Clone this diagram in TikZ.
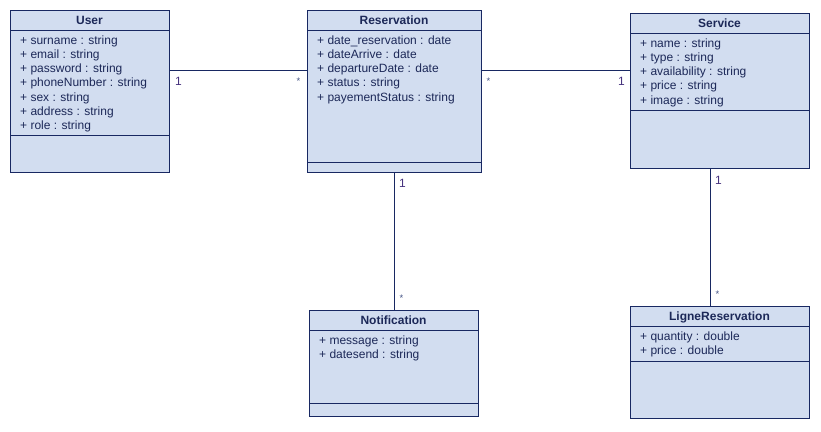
\documentclass[tikz,border=0pt]{standalone}
\usepackage{fontspec}
\setmainfont{Liberation Sans}
\usetikzlibrary{calc}
\definecolor{clsfill}{RGB}{210,221,240}
\definecolor{clsline}{RGB}{24,40,98}
\definecolor{clstext}{RGB}{28,40,88}
\definecolor{multone}{RGB}{70,50,125}
\definecolor{multstar}{RGB}{70,85,135}
\tikzset{
  cls/.style={draw=clsline, fill=clsfill, line width=1.3pt, anchor=north west, inner sep=0pt},
  sep/.style={draw=clsline, line width=1pt},
  title/.style={font=\fontsize{12}{14}\selectfont\bfseries, text=clstext, inner sep=0pt, anchor=base},
  attr/.style={font=\fontsize{12}{14}\selectfont, text=clstext, inner sep=0pt, anchor=base west},
  assoc/.style={draw=clsline, line width=1pt},
  one/.style={font=\fontsize{12}{14}\selectfont, text=multone, inner sep=0pt, anchor=base},
  star/.style={font=\fontsize{9.5}{10}\selectfont, text=multstar, inner sep=0pt, anchor=base},
}
\begin{document}
\begin{tikzpicture}[x=1pt,y=-1pt]
\useasboundingbox (0,0) rectangle (821,431);
% class boxes
\node[cls, minimum width=159pt, minimum height=162pt] (user) at (10,10) {};
\node[cls, minimum width=174pt, minimum height=162pt] (res) at (307,10) {};
\node[cls, minimum width=179pt, minimum height=155pt] (serv) at (630,13) {};
\node[cls, minimum width=169pt, minimum height=106pt] (notif) at (309,310) {};
\node[cls, minimum width=179pt, minimum height=112pt] (ligne) at (630,306) {};
% separators
\draw[sep] (10,30) -- (169,30) (10,135) -- (169,135);
\draw[sep] (307,30) -- (481,30) (307,162) -- (481,162);
\draw[sep] (630,33) -- (809,33) (630,110) -- (809,110);
\draw[sep] (309,330) -- (478,330) (309,403) -- (478,403);
\draw[sep] (630,326) -- (809,326) (630,361) -- (809,361);
% titles
\node[title] (tuser) at (89.5,24.3) {User};
\node[title] (tres) at (394,24.3) {Reservation};
\node[title] (tserv) at (719.5,27.3) {Service};
\node[title] (tnotif) at (393.5,324.3) {Notification};
\node[title] (tligne) at (719.5,320.3) {LigneReservation};
% attributes
\foreach \t [count=\i] in {+ surname : string, + email : string, + password : string, + phoneNumber : string, + sex : string, + address : string, + role : string}
  \node[attr] (ua\i) at (20,{44.5+14.15*(\i-1)}) {\t};
\foreach \t [count=\i] in {+ date\_reservation : date, + dateArrive : date, + departureDate : date, + status : string, + payementStatus : string}
  \node[attr] (ra\i) at (317,{44.5+14.15*(\i-1)}) {\t};
\foreach \t [count=\i] in {+ name : string, + type : string, + availability : string, + price : string, + image : string}
  \node[attr] (sa\i) at (640,{47.5+14.15*(\i-1)}) {\t};
\foreach \t [count=\i] in {+ message : string, + datesend : string}
  \node[attr] (na\i) at (319,{344.5+14.15*(\i-1)}) {\t};
\foreach \t [count=\i] in {+ quantity : double, + price : double}
  \node[attr] (la\i) at (640,{340.5+14.15*(\i-1)}) {\t};
% associations
\coordinate (y70) at (0,70);
\draw[assoc] (user.east |- y70) -- (res.west |- y70);
\draw[assoc] (res.east |- y70) -- (serv.west |- y70);
\coordinate (x394) at (394,0);
\draw[assoc] (res.south -| x394) -- (notif.north -| x394);
\coordinate (x710) at (710.5,0);
\draw[assoc] (serv.south -| x710) -- (ligne.north -| x710);
% multiplicities
\node[one] (m1) at (178.5,85.5) {1};
\node[star] (m2) at (298.5,84) {*};
\node[star] (m3) at (488.5,84) {*};
\node[one] (m4) at (621.5,85.5) {1};
\node[one] (m5) at (402.5,187.5) {1};
\node[star] (m6) at (401.5,301) {*};
\node[one] (m7) at (718.5,184.5) {1};
\node[star] (m8) at (717.5,297) {*};
\end{tikzpicture}
\end{document}
